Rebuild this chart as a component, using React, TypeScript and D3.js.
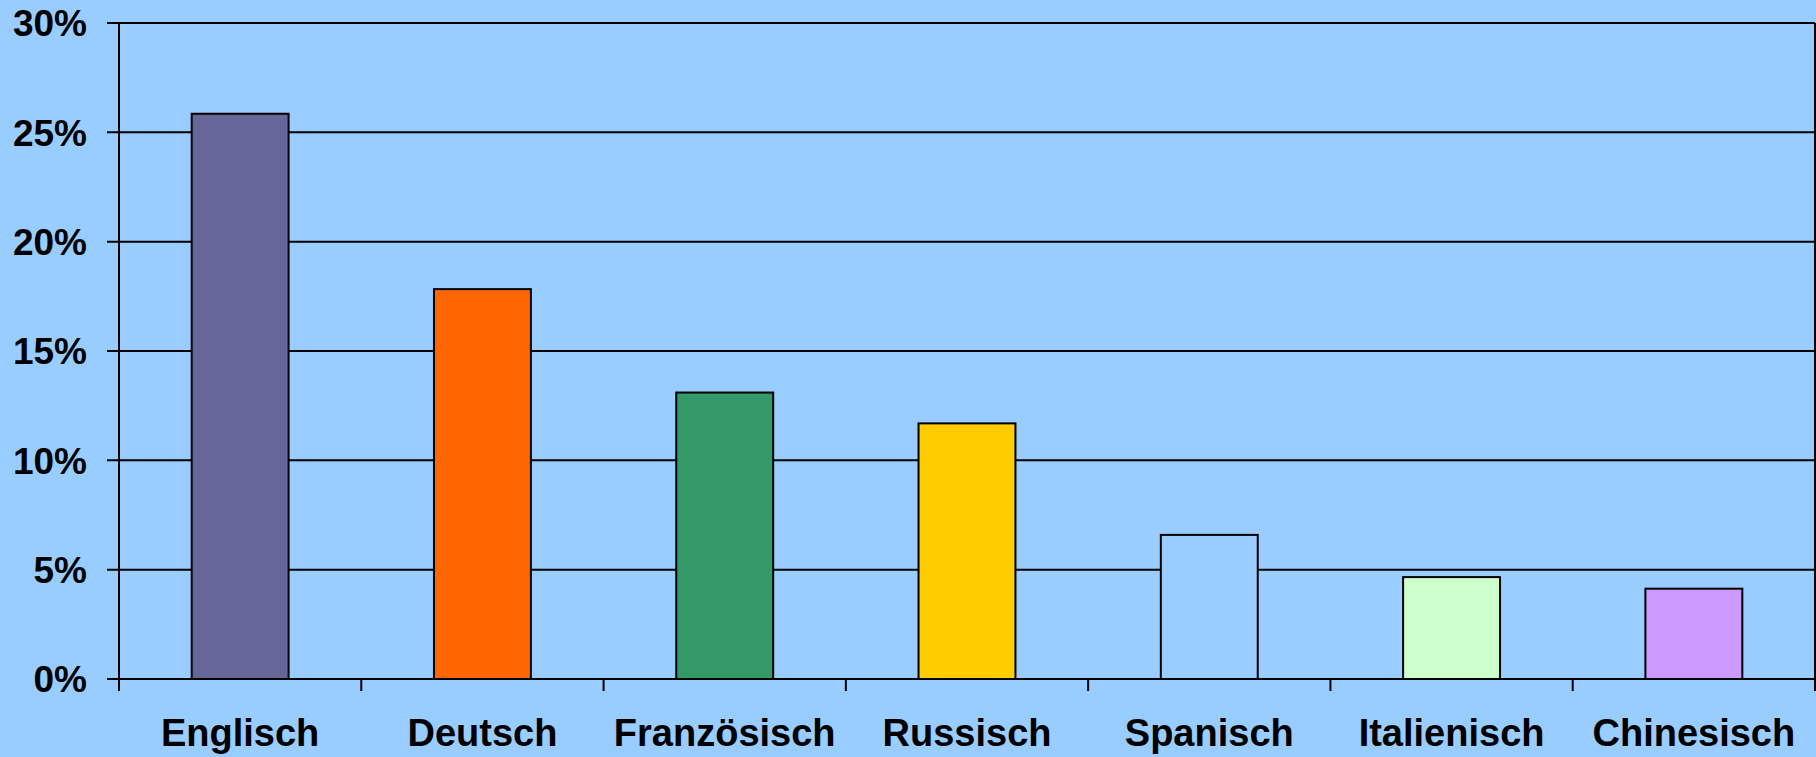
import React, { useEffect, useRef } from "react";
import * as d3 from "d3";

const languages = [
  "Englisch",
  "Deutsch",
  "Französisch",
  "Russisch",
  "Spanisch",
  "Italienisch",
  "Chinesisch",
];
const shares = [25.85, 17.83, 13.1, 11.69, 6.59, 4.66, 4.13];
const barColors = [
  "#666699",
  "#FF6600",
  "#339966",
  "#FFCC00",
  "#99CCFF",
  "#CCFFCC",
  "#CC99FF",
];
const yTicks = [0, 5, 10, 15, 20, 25, 30];

function App(): JSX.Element {
  const chartRef = useRef<SVGSVGElement>(null);

  useEffect(() => {
    if (!chartRef.current) return;
    const width = 1816;
    const height = 757;
    const margin = { top: 23, right: 1, bottom: 78, left: 119 };
    const innerW = width - margin.left - margin.right;
    const innerH = height - margin.top - margin.bottom;

    const root = d3.select(chartRef.current);
    root.selectAll("*").remove();

    root
      .append("rect")
      .attr("width", width)
      .attr("height", height)
      .attr("fill", "#99CCFF");

    const svg = root
      .append("g")
      .attr("transform", `translate(${margin.left},${margin.top})`);

    const x = d3
      .scaleBand()
      .domain(languages)
      .range([0, innerW])
      .paddingInner(0.6)
      .paddingOuter(0.3);
    const step = innerW / languages.length;

    const y = d3.scaleLinear().domain([0, 30]).range([innerH, 0]);

    // horizontal gridlines with left ticks
    svg
      .append("g")
      .selectAll("line")
      .data(yTicks)
      .enter()
      .append("line")
      .attr("x1", -12)
      .attr("x2", innerW)
      .attr("y1", (d) => y(d))
      .attr("y2", (d) => y(d))
      .attr("stroke", "#000")
      .attr("stroke-width", 2);

    svg
      .append("g")
      .selectAll("text")
      .data(yTicks)
      .enter()
      .append("text")
      .attr("x", -32)
      .attr("y", (d) => y(d))
      .attr("dy", "0.36em")
      .attr("text-anchor", "end")
      .style("font-family", "Liberation Sans, Arial, sans-serif")
      .style("font-weight", "bold")
      .style("font-size", "37px")
      .text((d) => `${d}%`);

    // bars
    svg
      .append("g")
      .selectAll("rect")
      .data(shares)
      .enter()
      .append("rect")
      .attr("x", (_, i) => x(languages[i])!)
      .attr("y", (d) => y(d))
      .attr("width", x.bandwidth())
      .attr("height", (d) => innerH - y(d))
      .attr("fill", (_, i) => barColors[i])
      .attr("stroke", "#000")
      .attr("stroke-width", 2);

    // axes lines
    svg
      .append("line")
      .attr("x1", 0)
      .attr("x2", 0)
      .attr("y1", 0)
      .attr("y2", innerH + 12)
      .attr("stroke", "#000")
      .attr("stroke-width", 2);

    svg
      .append("line")
      .attr("x1", innerW)
      .attr("x2", innerW)
      .attr("y1", 0)
      .attr("y2", innerH + 12)
      .attr("stroke", "#000")
      .attr("stroke-width", 2);

    svg
      .append("g")
      .selectAll("line")
      .data(d3.range(1, languages.length))
      .enter()
      .append("line")
      .attr("x1", (d) => d * step)
      .attr("x2", (d) => d * step)
      .attr("y1", innerH)
      .attr("y2", innerH + 12)
      .attr("stroke", "#000")
      .attr("stroke-width", 2);

    svg
      .append("g")
      .selectAll("text")
      .data(languages)
      .enter()
      .append("text")
      .attr("x", (d) => x(d)! + x.bandwidth() / 2)
      .attr("y", innerH + 67)
      .attr("text-anchor", "middle")
      .style("font-family", "Liberation Sans, Arial, sans-serif")
      .style("font-weight", "bold")
      .style("font-size", "38px")
      .text((d) => d);
  }, []);

  return (
    <svg
      ref={chartRef}
      width={1816}
      height={757}
      style={{ position: "absolute", left: 0, top: 0, display: "block" }}
    ></svg>
  );
}

export default App;
